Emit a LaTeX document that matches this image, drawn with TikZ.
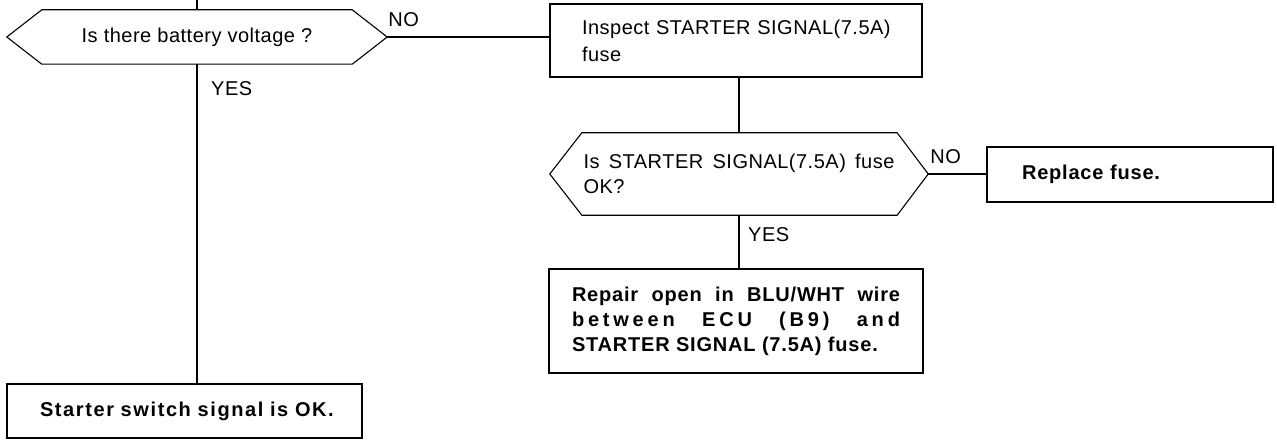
\documentclass[tikz,border=0pt]{standalone}
\usepackage{fontspec}
\setmainfont{Liberation Sans}[LetterSpace=2.5]
\newfontfamily\bfnt{Liberation Sans}[LetterSpace=4]
\usetikzlibrary{calc}
\tikzset{
  ln/.style={line width=1.1pt, black},
  box/.style={draw, line width=1.1pt, rectangle, inner sep=0pt, font=\fontsize{20}{25}\selectfont},
  hexbody/.style={rectangle, inner sep=0pt, font=\fontsize{20}{25}\selectfont},
  lbl/.style={anchor=west, inner sep=0pt, font=\fontsize{20}{24}\selectfont},
}
\begin{document}
\begin{tikzpicture}[x=1pt,y=-1pt]
\useasboundingbox (0,0) rectangle (1277,441);
\fill[white] (0,0) rectangle (1277,441);

% decision 1
\node[hexbody, minimum width=380pt, minimum height=54pt] (q1) at (197,37) {Is there battery voltage ?};
\draw[ln] (q1.west) -- ([xshift=35pt]q1.north west) -- ([xshift=-35pt]q1.north east) -- (q1.east)
  -- ([xshift=-35pt]q1.south east) -- ([xshift=35pt]q1.south west) -- cycle;
\coordinate (top) at (197,0);

% inspect box
\node[box, minimum width=372pt, minimum height=73pt, text width=372pt, align=left,
      font=\fontsize{20}{27}\selectfont] (b1) at (736,40.5)
  {\hspace*{32pt}Inspect STARTER SIGNAL(7.5A)\\\hspace*{32pt}fuse};

% decision 2
\node[hexbody, minimum width=378pt, minimum height=82pt, text width=311pt, align=justify] (q2) at (739,174)
  {Is STARTER SIGNAL(7.5A) fuse OK?};
\draw[ln] (q2.west) -- ([xshift=32pt]q2.north west) -- ([xshift=-31pt]q2.north east) -- (q2.east)
  -- ([xshift=-31pt]q2.south east) -- ([xshift=32pt]q2.south west) -- cycle;

% replace fuse
\node[box, minimum width=286pt, minimum height=55pt, text width=286pt, align=left] (rf) at (1130,174.5)
  {\hspace*{35pt}{\bfnt\bfseries Replace fuse.}};

% repair box
\node[box, minimum width=374pt, minimum height=104pt, text width=328pt, inner xsep=23pt, align=justify] (rp) at (736,321)
  {\bfnt\bfseries Repair open in BLU/WHT wire\linebreak
   {\addfontfeature{LetterSpace=19}between ECU (B9) and}\linebreak
   STARTER SIGNAL (7.5A) fuse.};

% OK box
\node[box, minimum width=355pt, minimum height=54pt, text width=355pt, align=left] (ok) at (184.5,411)
  {\hspace*{33pt}{\bfnt\bfseries\addfontfeature{LetterSpace=8}Starter switch signal is OK.}};

% connectors
\draw[ln] (top) -- (q1.north);
\draw[ln] (q1.east) -- (q1.east -| b1.west);
\draw[ln] (q2.north |- b1.south) -- (q2.north);
\draw[ln] (q2.east) -- (q2.east -| rf.west);
\draw[ln] (q2.south) -- (q2.south |- rp.north);
\draw[ln] (q1.south) -- (q1.south |- ok.north);

% labels
\node[lbl] (no1) at ($(q1.east)+(1,-17)$) {NO};
\node[lbl] (yes1) at ($(q1.south)+(14,24)$) {YES};
\node[lbl] (no2) at ($(q2.east)+(2,-17)$) {NO};
\node[lbl] (yes2) at ($(q2.south)+(9,19)$) {YES};
\end{tikzpicture}
\end{document}
